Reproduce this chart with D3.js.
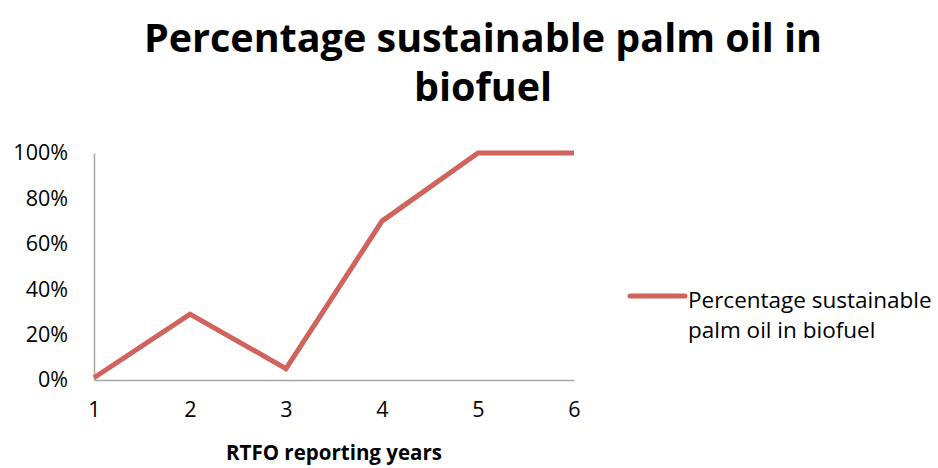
<!DOCTYPE html>
<html>
<head>
<meta charset="utf-8">
<script src="https://cdn.jsdelivr.net/npm/d3@7"></script>
<style>
  body { margin: 0; background: #fff; }
  text { font-family: "Open Sans", "Liberation Sans", sans-serif; fill: #000; }
</style>
</head>
<body>
<div id="chart"></div>
<script>
// chart data
var years = [1, 2, 3, 4, 5, 6];
var sharePct = [1, 29, 5, 70, 100, 100];
var yTicks = [0, 20, 40, 60, 80, 100];
var seriesName = "Percentage sustainable palm oil in biofuel";

var width = 938, height = 468;
var margin = {left: 94, right: 364, top: 153, bottom: 88};

var svg = d3.select("#chart")
  .append("svg")
  .attr("width", width)
  .attr("height", height);

var x = d3.scalePoint()
  .domain(years)
  .range([margin.left, width - margin.right]);

var y = d3.scaleLinear()
  .domain([0, 100])
  .range([height - margin.bottom, margin.top]);

// title
var title = svg.append("text")
  .attr("text-anchor", "middle")
  .style("font-size", "39.5px")
  .style("font-weight", "bold");
title.append("tspan").attr("x", 483).attr("y", 52).text("Percentage sustainable palm oil in");
title.append("tspan").attr("x", 483).attr("y", 101).text("biofuel");

// y axis
var yAxis = svg.append("g")
  .attr("transform", "translate(" + margin.left + ",0)")
  .call(d3.axisLeft(y).tickValues(yTicks).tickSize(0).tickPadding(26)
    .tickFormat(function(d) { return d + "%"; }));
yAxis.select(".domain").attr("stroke", "#a6a6a6").attr("stroke-width", 1.5);
yAxis.selectAll("text")
  .style("font-size", "21.5px")
  .attr("fill", "#000")
  .style("font-family", "'Open Sans', sans-serif");

// x axis
var xAxis = svg.append("g")
  .attr("transform", "translate(0," + y(0) + ")")
  .call(d3.axisBottom(x).tickSize(0).tickPadding(22));
xAxis.select(".domain").attr("stroke", "#a6a6a6").attr("stroke-width", 1.5);
xAxis.selectAll("text")
  .style("font-size", "21.5px")
  .attr("fill", "#000")
  .style("font-family", "'Open Sans', sans-serif");

// x axis title
svg.append("text")
  .attr("x", 334)
  .attr("y", 460)
  .attr("text-anchor", "middle")
  .style("font-size", "20.5px")
  .style("font-weight", "bold")
  .text("RTFO reporting years");

// line
var line = d3.line()
  .x(function(d, i) { return x(years[i]); })
  .y(function(d) { return y(d); });

svg.append("path")
  .datum(sharePct)
  .attr("d", line)
  .attr("fill", "none")
  .attr("stroke", "#d0635b")
  .attr("stroke-width", 5)
  .attr("stroke-linejoin", "miter");

// legend
var legend = svg.append("g").attr("transform", "translate(630,296)");
legend.append("line")
  .attr("x1", 0).attr("x2", 55)
  .attr("stroke", "#d0635b")
  .attr("stroke-width", 5)
  .attr("stroke-linecap", "round");
var lt = legend.append("text").style("font-size", "22.5px");
lt.append("tspan").attr("x", 58).attr("y", 12).text("Percentage sustainable");
lt.append("tspan").attr("x", 58).attr("y", 42).text("palm oil in biofuel");
</script>
</body>
</html>
